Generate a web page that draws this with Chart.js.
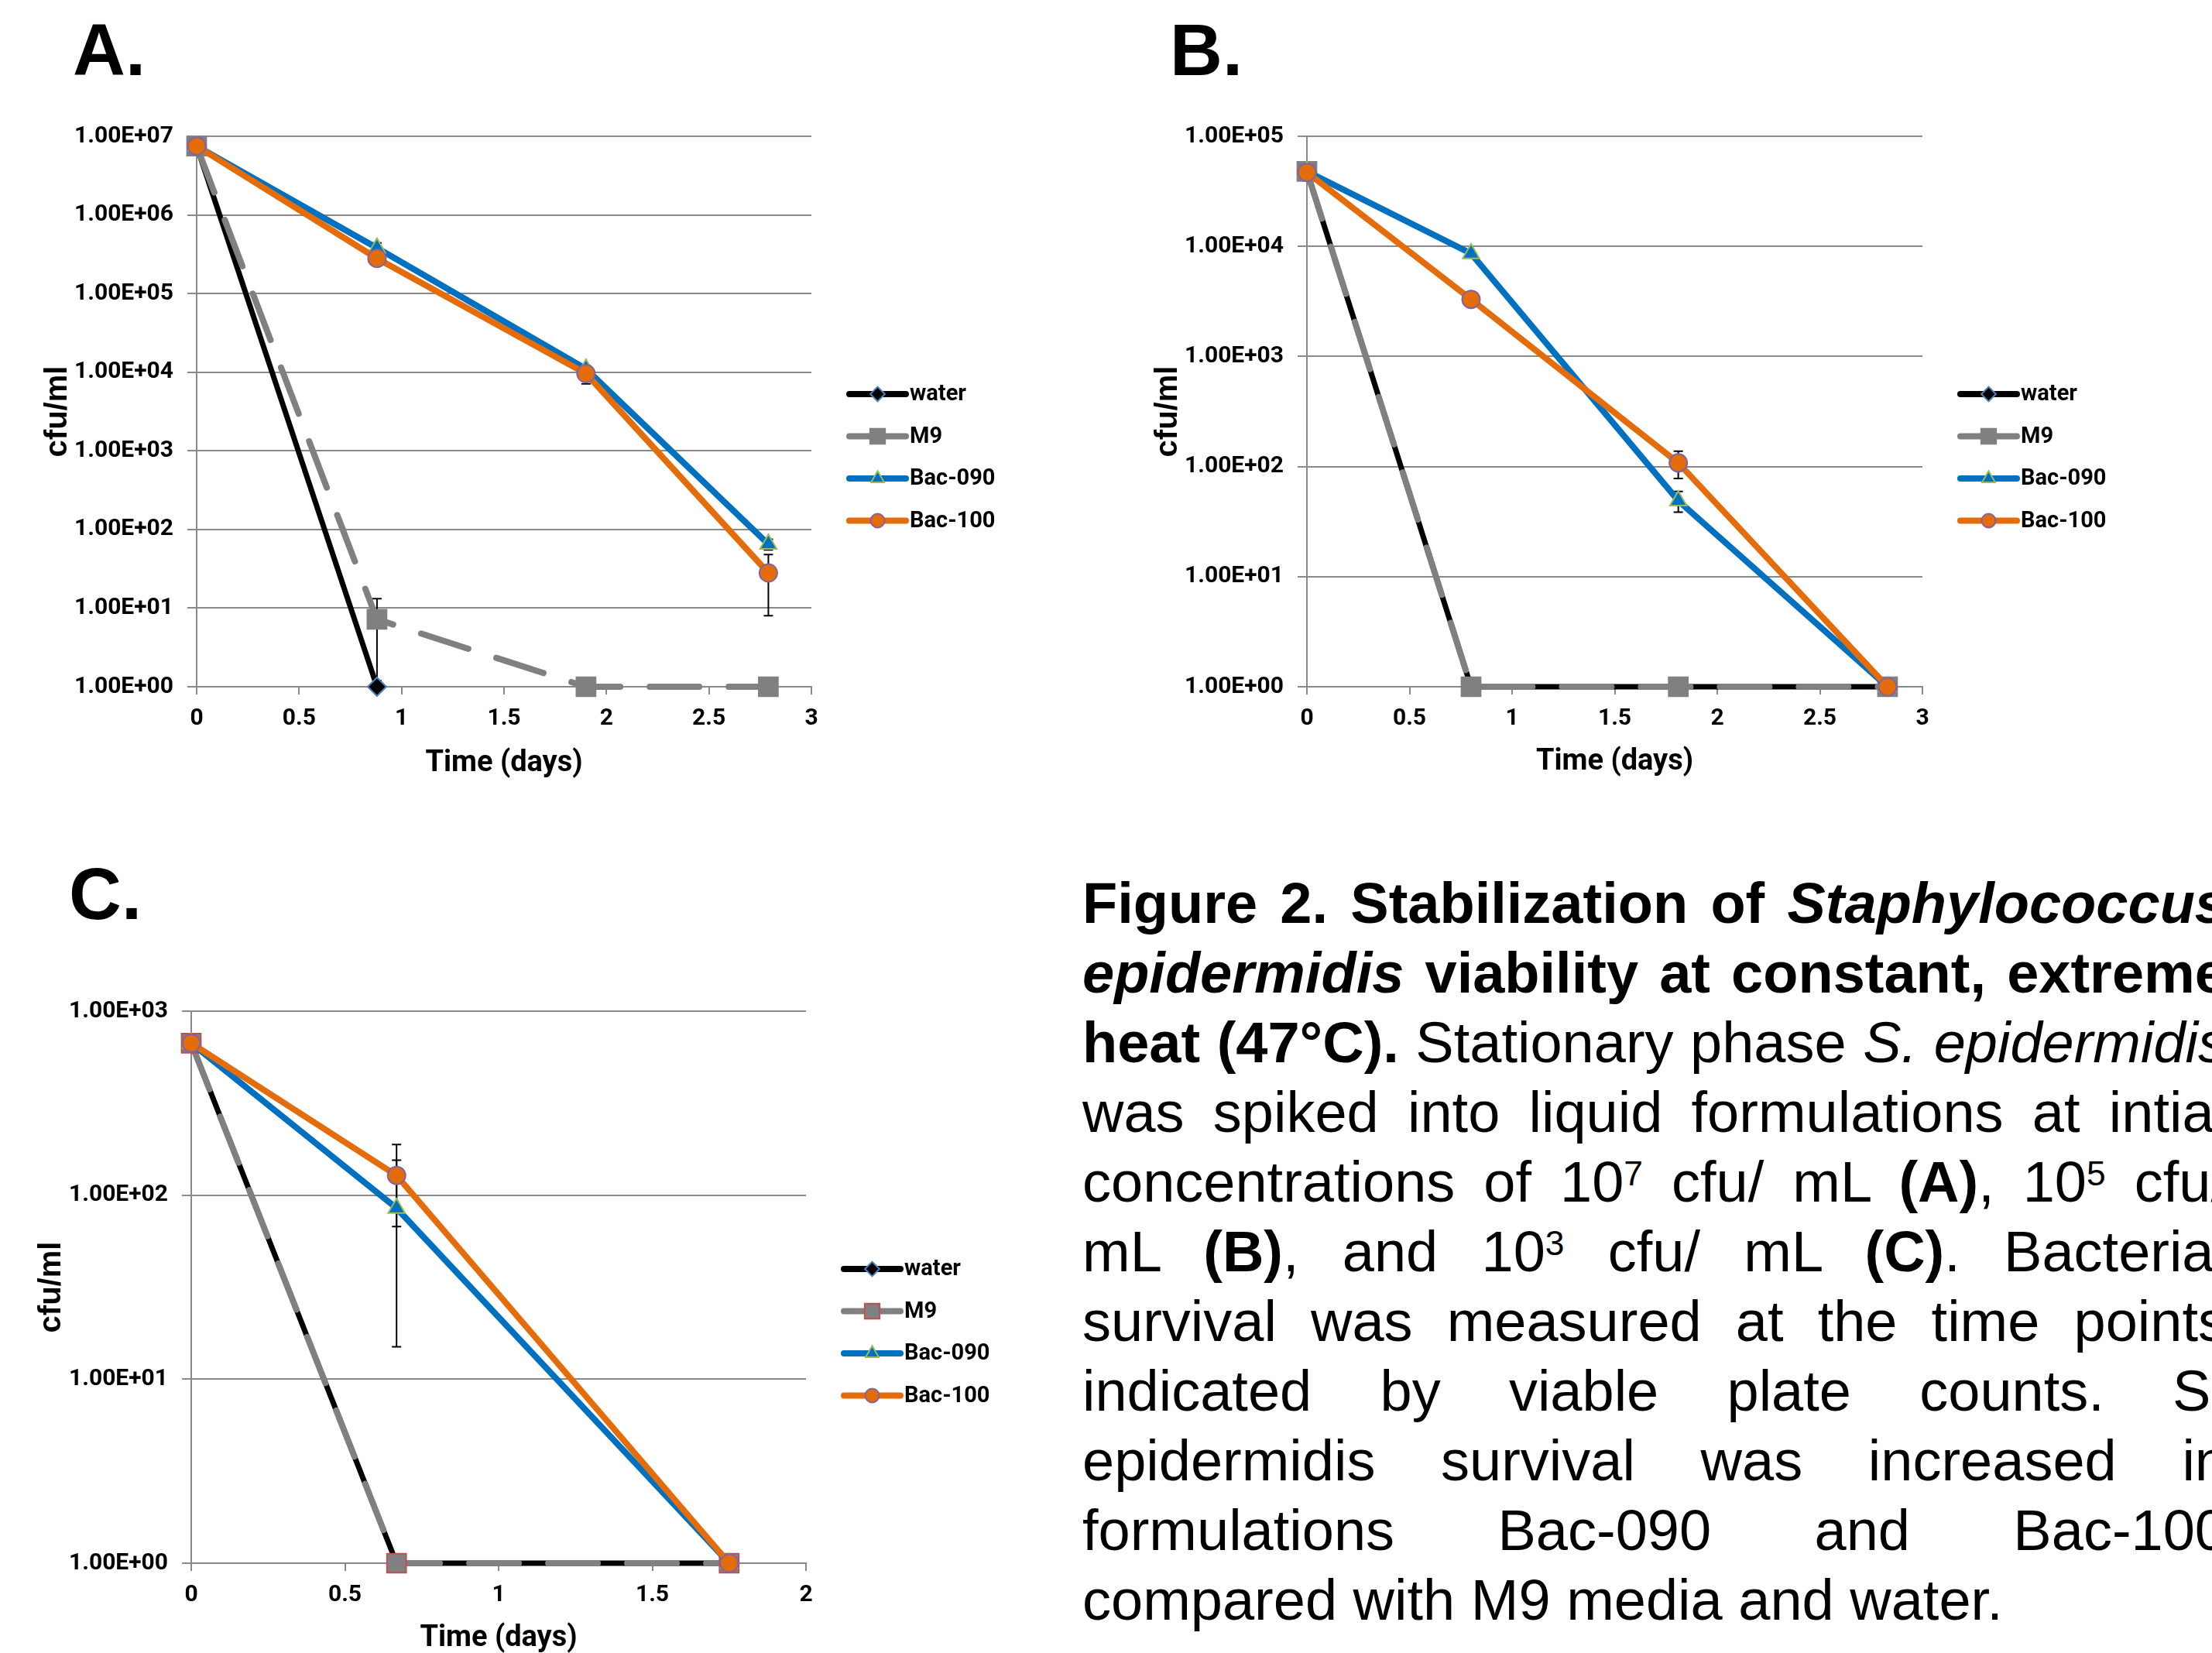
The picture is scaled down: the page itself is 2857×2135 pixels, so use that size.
<!DOCTYPE html>
<html>
<head>
<meta charset="utf-8">
<title>Figure 2 - S. epidermidis viability at 47°C</title>
<script src="https://cdn.jsdelivr.net/npm/chart.js@4.4.1/dist/chart.umd.min.js"></script>
<style>
  html, body { margin: 0; padding: 0; background: #fff; }
  body { width: 2857px; height: 2135px; overflow: hidden; position: relative;
         font-family: "Liberation Sans", Arial, sans-serif; color: #000; }
  canvas { position: absolute; }
  .panel { position: absolute; font-weight: bold; font-size: 94px; line-height: 94px; }
  .caption { position: absolute; left: 1398px; top: 1122px; width: 1478px;
             font-size: 74px; line-height: 90px; }
  .caption div { height: 90px; text-align: justify; text-align-last: justify; white-space: nowrap; }
  .caption div.last { text-align: left; text-align-last: left; }
  .sup { font-size: 0.6em; line-height: 0; position: relative; top: -21px; }
</style>
</head>
<body>

<div class="panel" style="left:94px; top:18px;">A.</div>
<div class="panel" style="left:1511px; top:18px;">B.</div>
<div class="panel" style="left:89px; top:1108px;">C.</div>

<canvas id="chartA" width="1330" height="940" style="left:0px; top:100px;"></canvas>
<canvas id="chartB" width="1457" height="940" style="left:1400px; top:100px;"></canvas>
<canvas id="chartC" width="1330" height="940" style="left:0px; top:1230px;"></canvas>

<div class="caption">
  <div><b>Figure 2. Stabilization of <i>Staphylococcus</i></b></div>
  <div><b><i>epidermidis</i> viability at constant, extreme</b></div>
  <div><b>heat (47°C).</b> Stationary phase <i>S. epidermidis</i></div>
  <div>was spiked into liquid formulations at intial</div>
  <div>concentrations of 10<span class="sup">7</span> cfu/ mL <b>(A)</b>, 10<span class="sup">5</span> cfu/</div>
  <div>mL <b>(B)</b>, and 10<span class="sup">3</span> cfu/ mL <b>(C)</b>. Bacterial</div>
  <div>survival was measured at the time points</div>
  <div>indicated by viable plate counts. S.</div>
  <div>epidermidis survival was increased in</div>
  <div>formulations Bac-090 and Bac-100</div>
  <div class="last">compared with M9 media and water.</div>
</div>

<script>
// ---- data (cfu/ml) ----
const seriesNames = ["water", "M9", "Bac-090", "Bac-100"];

// panel A, start 10^7 cfu/ml
const daysA = [0, 0.88, 1.9, 2.79];
const waterA = [7.5e6, 1];
const m9A = [7.5e6, 7.2, 1, 1];
const bac090A = [7.5e6, 3.8e5, 1.1e4, 65];
const bac100A = [7.5e6, 2.8e5, 9.6e3, 28];
const errM9A = [0, 6, 0, 0];
const err090A = [0, 6e4, 1e3, 10];
const err100A = [0, 5e4, 2.5e3, 20];
const yTicksA = [1, 10, 100, 1e3, 1e4, 1e5, 1e6, 1e7];
const yLabelsA = ["1.00E+00", "1.00E+01", "1.00E+02", "1.00E+03", "1.00E+04", "1.00E+05", "1.00E+06", "1.00E+07"];

// panel B, start 10^5 cfu/ml
const daysB = [0, 0.8, 1.81, 2.83];
const waterB = [4.8e4, 1, 1, 1];
const m9B = [4.8e4, 1, 1, 1];
const bac090B = [4.8e4, 8.6e3, 49, 1];
const bac100B = [4.7e4, 3.3e3, 108, 1];
const errM9B = [0, 0, 0, 0];
const err090B = [0, 0, 10.5, 0];
const err100B = [0, 0, 30, 0];
const yTicksB = [1, 10, 100, 1e3, 1e4, 1e5];
const yLabelsB = ["1.00E+00", "1.00E+01", "1.00E+02", "1.00E+03", "1.00E+04", "1.00E+05"];

// panel C, start 10^3 cfu/ml
const daysC = [0, 0.668, 1.75];
const waterC = [670, 1, 1];
const m9C = [670, 1, 1];
const bac090C = [670, 85, 1];
const bac100C = [670, 128, 1];
const errM9C = [0, 0, 0];
const err090C = [0, 70, 0];
const err100C = [0, 60.5, 0];
const yTicksC = [1, 10, 100, 1e3];
const yLabelsC = ["1.00E+00", "1.00E+01", "1.00E+02", "1.00E+03"];

// ---- look ----
const NARROW = 'Roboto, "Liberation Sans", sans-serif';
const GRID = "#898989";

function pts(xs, ys) {
    return ys.map((y, i) => ({ x: xs[i], y: y }));
}

function makeSets(xs, water, m9, b090, b100, errM9, err090, err100, m9Edge) {
    // later series sit on top, like in Excel -> lower "order"
    return [
        {
            label: seriesNames[0], data: pts(xs, water), order: 3,
            borderColor: "#000", borderWidth: 7,
            pointStyle: "rectRot", pointRadius: 12,
            pointBackgroundColor: "#000", pointBorderColor: "#4F81BD", pointBorderWidth: 2,
        },
        {
            label: seriesNames[1], data: pts(xs, m9), order: 2, errors: errM9,
            borderColor: "#808080", borderWidth: 8, borderDash: [64, 38], borderCapStyle: "round",
            pointStyle: "rect", pointRadius: 17.5,
            pointBackgroundColor: "#808080", pointBorderColor: m9Edge, pointBorderWidth: 2,
        },
        {
            label: seriesNames[2], data: pts(xs, b090), order: 1, errors: err090,
            borderColor: "#0070C0", borderWidth: 8,
            pointStyle: "triangle", pointRadius: 12.5,
            pointBackgroundColor: "#0070C0", pointBorderColor: "#9BBB59", pointBorderWidth: 2,
        },
        {
            label: seriesNames[3], data: pts(xs, b100), order: 0, errors: err100,
            borderColor: "#E46C0A", borderWidth: 8,
            pointStyle: "circle", pointRadius: 11.5,
            pointBackgroundColor: "#E46C0A", pointBorderColor: "#8064A2", pointBorderWidth: 2,
        },
    ];
}

// error bars, drawn under the series
const errorBars = {
    id: "errorBars",
    beforeDatasetsDraw(chart) {
        const ctx = chart.ctx;
        const xs = chart.scales.x, ys = chart.scales.y;
        ctx.save();
        ctx.strokeStyle = "#000";
        ctx.lineWidth = 2;
        chart.data.datasets.forEach(ds => {
            if (!ds.errors) return;
            ds.data.forEach((p, i) => {
                const e = ds.errors[i];
                if (!e) return;
                const px = xs.getPixelForValue(p.x);
                const top = ys.getPixelForValue(p.y + e);
                const bot = ys.getPixelForValue(Math.max(p.y - e, 0.5));
                ctx.beginPath();
                ctx.moveTo(px, top); ctx.lineTo(px, bot);
                ctx.moveTo(px - 6, top); ctx.lineTo(px + 6, top);
                ctx.moveTo(px - 6, bot); ctx.lineTo(px + 6, bot);
                ctx.stroke();
            });
        });
        ctx.restore();
    }
};

function marker(ctx, style, x, y, r) {
    ctx.beginPath();
    if (style === "circle") {
        ctx.arc(x, y, r, 0, Math.PI * 2);
    } else if (style === "rect") {
        const s = r * Math.SQRT1_2;
        ctx.rect(x - s, y - s, 2 * s, 2 * s);
    } else if (style === "rectRot") {
        ctx.moveTo(x, y - r); ctx.lineTo(x + r, y); ctx.lineTo(x, y + r); ctx.lineTo(x - r, y);
        ctx.closePath();
    } else if (style === "triangle") {
        ctx.moveTo(x, y - r);
        ctx.lineTo(x + r * 0.866, y + r * 0.5);
        ctx.lineTo(x - r * 0.866, y + r * 0.5);
        ctx.closePath();
    }
    ctx.fill();
    ctx.stroke();
}

// Excel-style legend on the right: line with the marker in the middle
const sideLegend = {
    id: "sideLegend",
    afterDraw(chart) {
        const { ctx, chartArea } = chart;
        const x0 = chartArea.right + 49, x1 = x0 + 73;
        chart.data.datasets.forEach((ds, i) => {
            const y = chartArea.top + 333 + i * 54.5;
            ctx.save();
            ctx.strokeStyle = ds.borderColor;
            ctx.lineWidth = 8;
            ctx.lineCap = "round";
            ctx.beginPath(); ctx.moveTo(x0, y); ctx.lineTo(x1, y); ctx.stroke();
            ctx.fillStyle = ds.pointBackgroundColor;
            ctx.strokeStyle = ds.pointBorderColor;
            ctx.lineWidth = ds.pointBorderWidth;
            marker(ctx, ds.pointStyle, (x0 + x1) / 2, y, ds.pointRadius * 0.78);
            ctx.fillStyle = "#000";
            ctx.font = "bold 29px " + NARROW;
            ctx.textBaseline = "middle";
            ctx.fillText(ds.label, x1 + 5, y + 1);
            ctx.restore();
        });
    }
};

function makeChart(id, datasets, xMax, yTicks, yLabels, box) {
    const ctx = document.getElementById(id);
    return new Chart(ctx, {
        type: "line",
        data: { datasets: datasets },
        plugins: [errorBars, sideLegend],
        options: {
            responsive: false,
            animation: false,
            layout: { padding: { top: 76, right: box.right, bottom: box.bottom, left: 0 } },
            elements: { line: { tension: 0 } },
            datasets: { line: { clip: false } },
            plugins: { legend: { display: false }, tooltip: { enabled: false } },
            scales: {
                x: {
                    type: "linear", min: 0, max: xMax,
                    ticks: { stepSize: 0.5, padding: 13, color: "#000", callback: v => String(Math.round(v * 10) / 10),
                             font: { family: NARROW, size: 30, weight: "bold" } },
                    grid: { drawOnChartArea: false, drawTicks: true, tickLength: 10, color: GRID, lineWidth: 2 },
                    border: { display: true, color: GRID, width: 2 },
                    title: { display: true, text: "Time (days)", color: "#000",
                             padding: { top: 0, bottom: box.xTitlePad }, font: { family: NARROW, size: 38, weight: "bold" } },
                    afterFit: s => { s.height = 130; },
                },
                y: {
                    type: "logarithmic", min: yTicks[0], max: yTicks[yTicks.length - 1],
                    afterBuildTicks: axis => { axis.ticks = yTicks.map(v => ({ value: v })); },
                    ticks: { padding: 18, color: "#000", callback: (v, i) => yLabels[i],
                             font: { family: NARROW, size: 30, weight: "bold" } },
                    grid: { color: GRID, lineWidth: 2, tickLength: 12 },
                    border: { display: true, color: GRID, width: 2 },
                    title: { display: true, text: "cfu/ml", color: "#000",
                             padding: { top: box.yTitlePad, bottom: 0 },
                             font: { family: '"Liberation Sans", Arial, sans-serif', size: 40, weight: "bold" } },
                    afterFit: s => { s.width = box.yWidth; },
                },
            },
        },
    });
}

makeChart("chartA", makeSets(daysA, waterA, m9A, bac090A, bac100A, errM9A, err090A, err100A, "#808080"),
    3, yTicksA, yLabelsA, { right: 282, bottom: 23, yWidth: 254, yTitlePad: 51, xTitlePad: 8 });
makeChart("chartB", makeSets(daysB, waterB, m9B, bac090B, bac100B, errM9B, err090B, err100B, "#808080"),
    3, yTicksB, yLabelsB, { right: 374, bottom: 23, yWidth: 288, yTitlePad: 85, xTitlePad: 10 });
makeChart("chartC", makeSets(daysC, waterC, m9C, bac090C, bac100C, errM9C, err090C, err100C, "#C0504D"),
    2, yTicksC, yLabelsC, { right: 289, bottom: 21, yWidth: 247, yTitlePad: 43, xTitlePad: 10 });
</script>
</body>
</html>
